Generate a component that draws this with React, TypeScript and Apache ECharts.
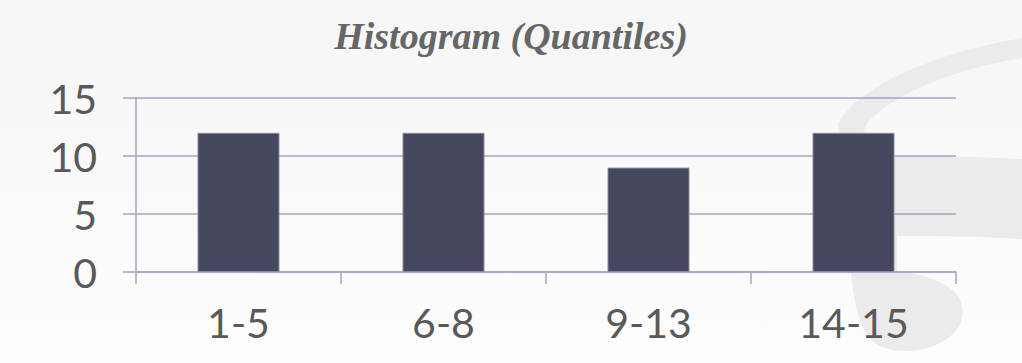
import React, { useEffect, useRef } from "react";
import * as echarts from "echarts";

const categories = ["1-5", "6-8", "9-13", "14-15"];
const counts = [12, 12, 9, 12];
const titleText = "Histogram (Quantiles)";

const swooshPath =
  "M 1022 38 C 950 50 862 80 838 124 L 850 265 C 855 310 860 340 885 348 C 915 357 955 345 962 318 C 968 292 940 276 897 271 L 897 236 C 950 236 990 237 1022 239 L 1022 159 C 980 157 930 156 880 156 C 862 150 858 135 870 120 C 900 90 960 68 1022 58 Z";

let registered = false;

export default function App() {
  const ref = useRef<HTMLDivElement>(null);
  useEffect(() => {
    if (!ref.current) return;
    if (!registered) {
      echarts.graphic.registerShape("swoosh", echarts.graphic.extendPath(swooshPath, {}));
      registered = true;
    }
    const chart = echarts.init(ref.current, null, { renderer: "svg" });
    chart.setOption({
      animation: false,
      backgroundColor: {
        type: "linear",
        x: 0,
        y: 0,
        x2: 0,
        y2: 1,
        colorStops: [
          { offset: 0, color: "#f6f6f6" },
          { offset: 1, color: "#fdfdfd" },
        ],
      },
      graphic: [
        {
          type: "swoosh",
          x: 0,
          y: 0,
          z: -10,
          silent: true,
          style: { fill: "#ebebeb" },
        },
      ],
      title: {
        text: titleText,
        left: "center",
        top: 12,
        textStyle: {
          fontFamily: "Liberation Serif",
          fontStyle: "italic",
          fontWeight: "bold",
          fontSize: 38,
          color: "#666666",
        },
      },
      grid: { left: 136, right: 66, top: 98, bottom: 91 },
      xAxis: {
        type: "category",
        data: categories,
        axisLine: { show: true, lineStyle: { color: "#a4a4c0", width: 1.5 } },
        axisTick: { show: true, length: 12, lineStyle: { color: "#a4a4c0", width: 1.5 } },
        axisLabel: {
          fontFamily: "Lato",
          fontSize: 41,
          color: "#595959",
          margin: 30,
        },
      },
      yAxis: {
        type: "value",
        min: 0,
        max: 15,
        interval: 5,
        axisLine: { show: true, lineStyle: { color: "#a4a4c0", width: 1.5 } },
        axisTick: { show: true, length: 13, lineStyle: { color: "#a4a4c0", width: 1.5 } },
        splitLine: { show: true, lineStyle: { color: "#a4a4c0", width: 1.5 } },
        axisLabel: {
          fontFamily: "Lato",
          fontSize: 41,
          color: "#595959",
          margin: 39,
        },
      },
      series: [
        {
          type: "bar",
          data: counts,
          barWidth: 82,
          itemStyle: { color: "#45465f", borderColor: "#8c8c99", borderWidth: 1 },
        },
      ],
    });
    return () => chart.dispose();
  }, []);
  return (
    <div
      ref={ref}
      style={{ position: "fixed", left: 0, top: 0, width: 1022, height: 363 }}
    />
  );
}
